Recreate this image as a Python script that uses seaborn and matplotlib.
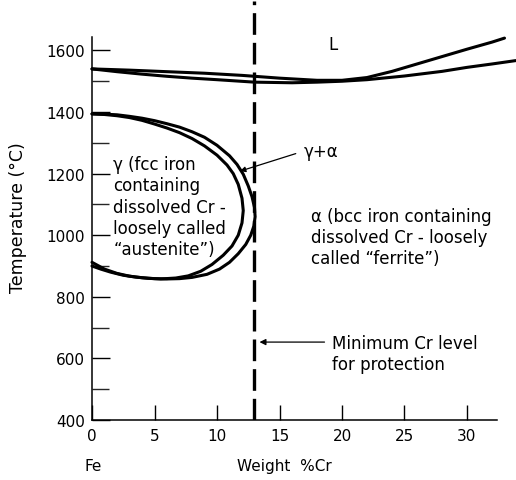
import matplotlib
matplotlib.use("Agg")
import matplotlib.pyplot as plt
import seaborn as sns
import pandas as pd

# ---- data ----
liq_x = [0, 3, 6, 9, 12, 15, 18, 20, 22, 24, 26, 28, 30, 32, 33]
liq_T = [1540, 1536, 1531, 1526, 1519, 1510, 1503, 1503, 1512, 1532, 1556, 1580, 1604, 1627, 1640]

sol_x = [0, 2, 4, 6, 8, 10, 13, 16, 18, 20, 22, 25, 28, 30, 32, 33.9]
sol_T = [1540, 1531, 1523, 1516, 1510, 1505, 1497, 1495, 1497, 1500, 1505, 1517, 1532, 1545, 1556, 1567]

outer_x = [0, 1, 2, 3, 4, 5, 6, 7, 8, 9, 10, 11, 11.6, 12.1, 12.5, 12.8, 13.0, 13.05,
           12.95, 12.7, 12.3, 11.7, 11.0, 10.2, 9.2, 8, 7, 6, 5, 4, 3, 2, 1, 0]
outer_T = [1394, 1393, 1391, 1386, 1380, 1372, 1362, 1351, 1336, 1318, 1292, 1258, 1230, 1198, 1160, 1125, 1090, 1060,
           1030, 1000, 970, 940, 912, 890, 873, 863, 859, 858, 859, 862, 867, 876, 890, 912]

inner_x = [0, 1, 2, 3, 4, 5, 6, 7, 8, 9, 10, 10.8, 11.3, 11.7, 12.0, 12.1,
           12.0, 11.7, 11.2, 10.5, 9.6, 8.7, 7.7, 6.7, 5.5, 4.5, 3.5, 2.5, 1.5, 0.7, 0]
inner_T = [1394, 1392, 1388, 1382, 1373, 1361, 1348, 1333, 1314, 1290, 1260, 1228, 1200, 1165, 1120, 1080,
           1040, 1000, 965, 935, 905, 883, 868, 861, 858, 860, 864, 870, 880, 890, 900]

min_cr = 13
x_ticks = [0, 5, 10, 15, 20, 25, 30]
y_ticks = [400, 600, 800, 1000, 1200, 1400, 1600]
y_minor = [500, 700, 900, 1100, 1300, 1500]

sns.set_style("white")
plt.rcParams['font.family'] = ['DejaVu Sans']
plt.rcParams['text.color'] = 'black'
plt.rcParams['axes.labelcolor'] = 'black'

fig = plt.figure(figsize=(5.16, 4.81), dpi=100)
ax = fig.add_axes([92/516, 60/481, 1 - 92/516, 421/481])

lw = 2.2
for xs, ts in [(liq_x, liq_T), (sol_x, sol_T), (outer_x, outer_T), (inner_x, inner_T)]:
    df = pd.DataFrame({"x": xs, "T": ts})
    sns.lineplot(data=df, x="x", y="T", sort=False, estimator=None, color="black",
                 lw=lw, ax=ax, clip_on=False)

ax.axvline(min_cr, ymin=0, ymax=0.995, color="black", lw=2.4, dashes=(6.5, 2.4))

ax.set_xlim(0, (516 - 92) / 12.5)
ax.set_ylim(400, 1767)
ax.set_xticks(x_ticks)
ax.set_yticks(y_ticks)
ax.set_yticks(y_minor, minor=True)
ax.set_xticklabels([str(v) for v in x_ticks])
ax.set_yticklabels([str(v) for v in y_ticks])
ax.tick_params(axis="x", direction="in", length=11, width=1.0, pad=6, labelsize=11, colors="black", bottom=True)
ax.tick_params(axis="y", direction="in", length=13, width=1.0, pad=5, labelsize=11, colors="black", left=True)
ax.tick_params(axis="y", which="minor", direction="in", length=12, width=1.0, left=True)

for s in ["top", "right"]:
    ax.spines[s].set_visible(False)
ax.spines["left"].set_bounds(400, 1643)
ax.spines["bottom"].set_bounds(0, 32.4)
for s in ["left", "bottom"]:
    ax.spines[s].set_color("black")
    ax.spines[s].set_linewidth(1.1)

ax.set_xlabel("")
ax.set_ylabel("Temperature (°C)", fontsize=12.5, color="black")
ax.yaxis.set_label_coords(-0.153, 0.482)

ax.text(-0.64, 251, "Fe", fontsize=11, ha="left", va="center", clip_on=False)
ax.text(11.6, 251, "Weight  %Cr", fontsize=11, ha="left", va="center", clip_on=False)

fs = 12
ax.text(19.3, 1620, "L", fontsize=fs, ha="center", va="center")
ax.text(1.7, 1093, "γ (fcc iron\ncontaining\ndissolved Cr -\nloosely called\n“austenite”)",
        fontsize=fs, ha="left", va="center", linespacing=1.22)
ax.text(17.5, 994, "α (bcc iron containing\ndissolved Cr - loosely\ncalled “ferrite”)",
        fontsize=fs, ha="left", va="center", linespacing=1.22)
ax.text(16.9, 1273, "γ+α", fontsize=fs, ha="left", va="center")
ax.annotate("", xy=(11.84, 1208), xytext=(16.3, 1265),
            arrowprops=dict(arrowstyle="-|>", lw=0.9, color="black", mutation_scale=8,
                            shrinkA=0, shrinkB=0))
ax.text(19.2, 617, "Minimum Cr level\nfor protection", fontsize=fs, ha="left", va="center",
        linespacing=1.22)
ax.annotate("", xy=(13.4, 653), xytext=(18.6, 653),
            arrowprops=dict(arrowstyle="-|>", lw=0.9, color="black", mutation_scale=9,
                            shrinkA=0, shrinkB=0))

fig.savefig("out.png", dpi=100, facecolor="white")
